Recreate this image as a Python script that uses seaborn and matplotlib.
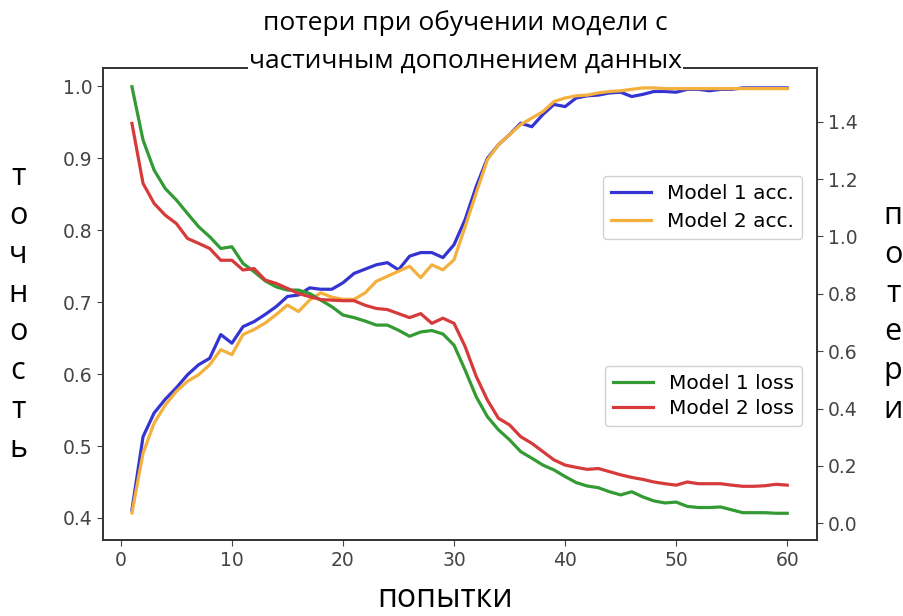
import matplotlib
matplotlib.use("Agg")
import matplotlib.pyplot as plt
import seaborn as sns
import pandas as pd

# --- data ---
attempts = list(range(1, 61))

model1_acc = [0.411, 0.513, 0.546, 0.565, 0.581, 0.599, 0.613, 0.622, 0.655, 0.643,
              0.666, 0.673, 0.683, 0.694, 0.708, 0.710, 0.720, 0.718, 0.718, 0.727,
              0.740, 0.746, 0.752, 0.755, 0.745, 0.764, 0.769, 0.769, 0.762, 0.780,
              0.815, 0.861, 0.900, 0.919, 0.933, 0.949, 0.944, 0.961, 0.975, 0.972,
              0.984, 0.987, 0.988, 0.991, 0.992, 0.986, 0.989, 0.993, 0.993, 0.992,
              0.996, 0.996, 0.994, 0.996, 0.996, 0.998, 0.998, 0.998, 0.998, 0.998]
model2_acc = [0.407, 0.490, 0.532, 0.557, 0.576, 0.590, 0.599, 0.613, 0.634, 0.627,
              0.655, 0.662, 0.671, 0.683, 0.696, 0.687, 0.703, 0.713, 0.707, 0.704,
              0.704, 0.713, 0.729, 0.736, 0.743, 0.750, 0.734, 0.752, 0.745, 0.759,
              0.805, 0.852, 0.898, 0.919, 0.933, 0.947, 0.956, 0.965, 0.979, 0.984,
              0.987, 0.988, 0.991, 0.993, 0.994, 0.996, 0.998, 0.998, 0.997, 0.997,
              0.997, 0.997, 0.997, 0.997, 0.997, 0.997, 0.997, 0.997, 0.997, 0.997]
model1_loss = [1.522, 1.336, 1.231, 1.167, 1.127, 1.080, 1.034, 0.999, 0.958, 0.964,
               0.906, 0.877, 0.845, 0.824, 0.813, 0.813, 0.801, 0.778, 0.755, 0.726,
               0.717, 0.705, 0.691, 0.691, 0.673, 0.652, 0.667, 0.672, 0.660, 0.621,
               0.534, 0.441, 0.372, 0.326, 0.291, 0.250, 0.227, 0.203, 0.186, 0.163,
               0.142, 0.130, 0.124, 0.110, 0.099, 0.110, 0.092, 0.078, 0.071, 0.074,
               0.059, 0.055, 0.055, 0.057, 0.047, 0.037, 0.037, 0.037, 0.035, 0.035]
model2_loss = [1.394, 1.185, 1.115, 1.074, 1.045, 0.993, 0.976, 0.958, 0.917, 0.917,
               0.883, 0.888, 0.848, 0.836, 0.819, 0.801, 0.790, 0.780, 0.778, 0.776,
               0.776, 0.760, 0.749, 0.745, 0.731, 0.717, 0.731, 0.697, 0.715, 0.697,
               0.616, 0.512, 0.430, 0.366, 0.343, 0.302, 0.279, 0.250, 0.221, 0.203,
               0.195, 0.188, 0.191, 0.180, 0.169, 0.160, 0.153, 0.144, 0.138, 0.133,
               0.144, 0.138, 0.138, 0.138, 0.133, 0.129, 0.129, 0.131, 0.136, 0.133]

acc_labels = ['Model 1 acc.', 'Model 2 acc.']
loss_labels = ['Model 1 loss', 'Model 2 loss']
acc_colors = ['#3434d2', '#f4b03c']
loss_colors = ['#349a34', '#d63a3a']

title_text = 'потери при обучении модели с\nчастичным дополнением данных'
left_label = 'точность'
right_label = 'потери'
x_label = 'попытки'

acc_df = pd.DataFrame({'attempt': attempts * 2,
                       'value': model1_acc + model2_acc,
                       'series': [acc_labels[0]] * 60 + [acc_labels[1]] * 60})
loss_df = pd.DataFrame({'attempt': attempts * 2,
                        'value': model1_loss + model2_loss,
                        'series': [loss_labels[0]] * 60 + [loss_labels[1]] * 60})

# --- plot ---
fig = plt.figure(figsize=(9.04, 6.16), dpi=100)
ax = fig.add_axes([0.114, 0.123, 0.790, 0.767])
ax2 = ax.twinx()

sns.lineplot(data=acc_df, x='attempt', y='value', hue='series',
             palette=acc_colors, linewidth=2.3, ax=ax)
sns.lineplot(data=loss_df, x='attempt', y='value', hue='series',
             palette=loss_colors, linewidth=2.3, ax=ax2)

ax.set_xlim(-1.6, 62.7)
ax.set_ylim(0.369, 1.026)
ax2.set_ylim(-0.059, 1.588)
ax.set_xticks(range(0, 61, 10))
ax.set_yticks([0.4, 0.5, 0.6, 0.7, 0.8, 0.9, 1.0])
ax2.set_yticks([0.0, 0.2, 0.4, 0.6, 0.8, 1.0, 1.2, 1.4])
ax.set_xlabel('')
ax.set_ylabel('')
ax2.set_ylabel('')

for a in (ax, ax2):
    a.tick_params(labelsize=13.5, labelcolor='#444444', color='#444444', length=4)
    for s in a.spines.values():
        s.set_color('#333333')
        s.set_linewidth(1.2)

ax.legend(loc='center right', bbox_to_anchor=(0.993, 0.705), fontsize=14.5,
          handlelength=2.0, labelspacing=0.45, framealpha=0.9, edgecolor='#cccccc')
ax2.legend(loc='center right', bbox_to_anchor=(0.993, 0.305), fontsize=14.5,
           handlelength=2.0, labelspacing=0.3, framealpha=0.9, edgecolor='#cccccc')

# title sits on a white box that hides the middle of the top spine
fig.text(0.515, 0.984, title_text, ha='center', va='top', fontsize=19,
         family='Open Sans', linespacing=1.68,
         bbox=dict(facecolor='white', edgecolor='none', pad=1))
fig.text(0.020, 0.492, '\n'.join(left_label), ha='center', va='center',
         fontsize=22, family='Open Sans', linespacing=1.38)
fig.text(0.988, 0.492, '\n'.join(right_label), ha='center', va='center',
         fontsize=22, family='Open Sans', linespacing=1.38)
fig.text(0.492, 0.028, x_label, ha='center', va='center', fontsize=23,
         family='Open Sans')

fig.savefig('out.png', dpi=100)
